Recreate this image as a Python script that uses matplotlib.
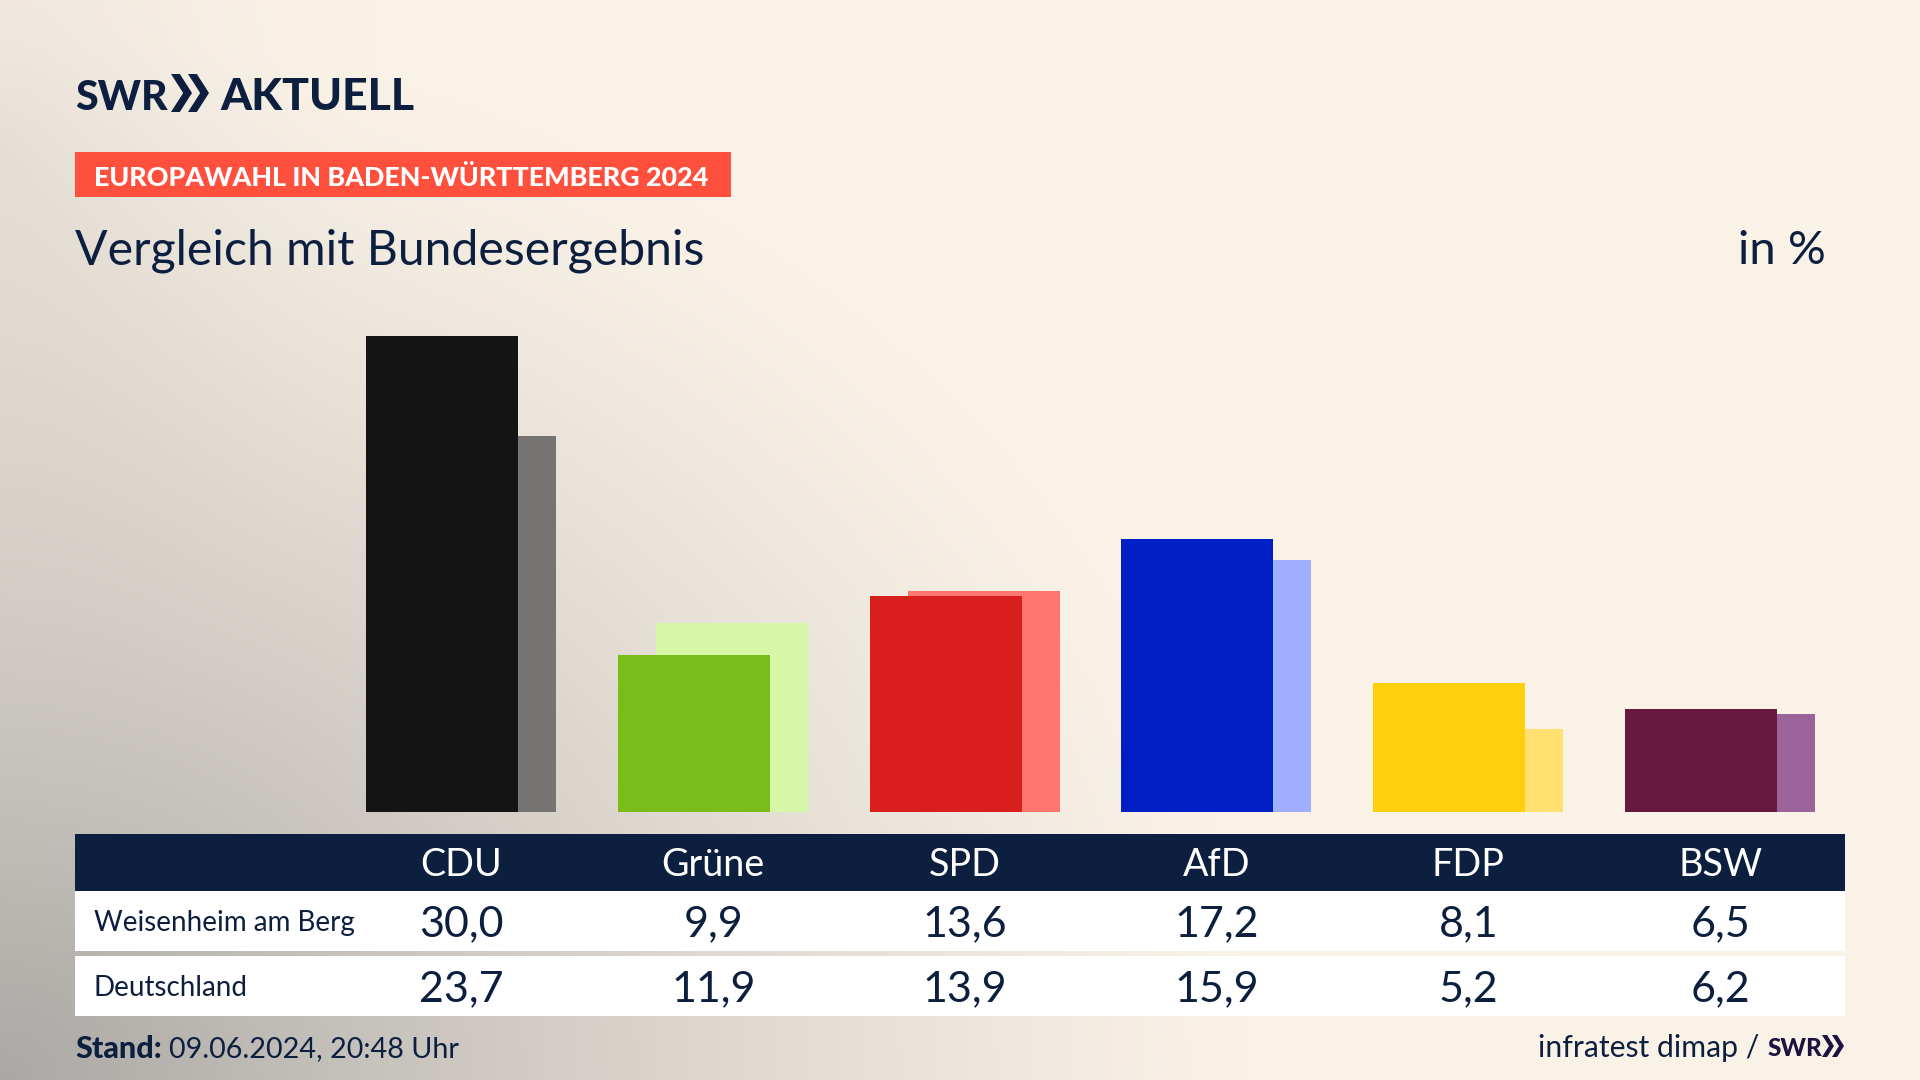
import numpy as np
import matplotlib
matplotlib.use("Agg")
import matplotlib.pyplot as plt
from matplotlib.patches import Rectangle, Polygon

parties = ["CDU", "Grüne", "SPD", "AfD", "FDP", "BSW"]
local_values = [30.0, 9.9, 13.6, 17.2, 8.1, 6.5]
national_values = [23.7, 11.9, 13.9, 15.9, 5.2, 6.2]
local_colors = ["#141414", "#7ABD1A", "#D81F1D", "#0020C6", "#FFCE0C", "#67193F"]
national_colors = ["#757472", "#D6F7A8", "#FF7670", "#9FAEFF", "#FFE070", "#9A6399"]
row_labels = ["Weisenheim am Berg", "Deutschland"]

NAVY = "#0C1F3F"
FONT = "Lato"
plt.rcParams["font.family"] = [FONT, "DejaVu Sans"]

W, H = 1920, 1080
fig = plt.figure(figsize=(W / 100, H / 100), dpi=100)

# background
bg = fig.add_axes([0, 0, 1, 1], zorder=0)
yy, xx = np.mgrid[0:H:270j, 0:W:480j]
d = np.sqrt((xx / 1250) ** 2 + ((H - yy) / 1050) ** 2)
t = np.clip(1 - d, 0, 1) ** 1.2 * 0.72
r2 = np.sqrt((xx / 380) ** 2 + ((yy - 150) / 620) ** 2)
t2 = np.clip(1 - r2, 0, 1) ** 1.6 * 0.14
t = np.clip(t + t2, 0, 1)[..., None]
cream = np.array([0xFA, 0xF2, 0xE7]) / 255
gray = np.array([0x8C, 0x8C, 0x8C]) / 255
bg.imshow(cream * (1 - t) + gray * t, extent=(0, W, H, 0), aspect="auto", interpolation="bilinear")
bg.set_xlim(0, W)
bg.set_ylim(H, 0)
bg.axis("off")

# bars
STEP = 251.7
C0 = 461.6
BASE = 812
UNIT = 15.88
TOP = 300
L, R = 75, 1845
ax = fig.add_axes([L / W, 1 - BASE / H, (R - L) / W, (BASE - TOP) / H], zorder=1)
ax.patch.set_alpha(0)
ax.set_xlim((L - C0 + 0.3) / STEP, (R - C0 + 0.3) / STEP)
ax.set_ylim(0, (BASE - TOP) / UNIT)
ax.axis("off")
pos = np.arange(len(parties))
ax.bar(pos + 0.0755, national_values, width=0.604, color=national_colors, linewidth=0)
ax.bar(pos - 0.0755, local_values, width=0.604, color=local_colors, linewidth=0)

# overlay in pixel coordinates
ov = fig.add_axes([0, 0, 1, 1], zorder=2)
ov.patch.set_alpha(0)
ov.set_xlim(0, W)
ov.set_ylim(H, 0)
ov.axis("off")

def rect(x0, y0, x1, y1, c):
    ov.add_patch(Rectangle((x0, y0), x1 - x0, y1 - y0, color=c, linewidth=0))

def chevrons(x, y, h, w, gap, c):
    for i in range(2):
        xo = x + i * gap
        ov.add_patch(Polygon([(xo, y), (xo + w * 0.42, y), (xo + w, y + h / 2),
                              (xo + w * 0.42, y + h), (xo, y + h), (xo + w * 0.58, y + h / 2)],
                             closed=True, color=c, linewidth=0))

# logo
ov.text(75, 110, "SWR", fontsize=29.5, fontweight="black", color=NAVY, va="baseline", ha="left")
chevrons(171, 74, 38, 21, 17, NAVY)
ov.text(220, 110, "AKTUELL", fontsize=32, fontweight="black", color=NAVY, va="baseline", ha="left")

# kicker
rect(75, 152, 731, 197, "#FF4F3D")
ov.text(94, 177, "EUROPAWAHL IN BADEN-WÜRTTEMBERG 2024", fontsize=19.4, fontweight="black",
        color="white", va="center", ha="left")

# title
ov.text(75, 251, "Vergleich mit Bundesergebnis", fontsize=34.7, color=NAVY, va="center", ha="left")
ov.text(1826, 251, "in %", fontsize=34, color=NAVY, va="center", ha="right")

# table
rect(L, 834, R, 891, NAVY)
rect(L, 891, R, 951, "white")
rect(L, 956, R, 1016, "white")
for i, p in enumerate(parties):
    x = C0 + STEP * i
    ov.text(x, 865, p, fontsize=27.2, color="white", va="center", ha="center")
    ov.text(x, 924, f"{local_values[i]:.1f}".replace(".", ","), fontsize=31, color=NAVY, va="center", ha="center")
    ov.text(x, 989, f"{national_values[i]:.1f}".replace(".", ","), fontsize=31, color=NAVY, va="center", ha="center")
ov.text(94, 923, row_labels[0], fontsize=19.95, color=NAVY, va="center", ha="left")
ov.text(94, 988, row_labels[1], fontsize=19.95, color=NAVY, va="center", ha="left")

# footer
ov.text(75, 1049, "Stand:", fontsize=22, fontweight="black", color=NAVY, va="center", ha="left")
ov.text(169, 1049, "09.06.2024, 20:48 Uhr", fontsize=20.7, color=NAVY, va="center", ha="left")
ov.text(1759, 1048, "infratest dimap /", fontsize=21.7, color=NAVY, va="center", ha="right")
ov.text(1768, 1056, "SWR", fontsize=17.5, fontweight="black", color="#1E1240", va="baseline", ha="left")
chevrons(1822, 1035, 22, 12, 10, "#1E1240")

fig.savefig("out.png", dpi=100)
